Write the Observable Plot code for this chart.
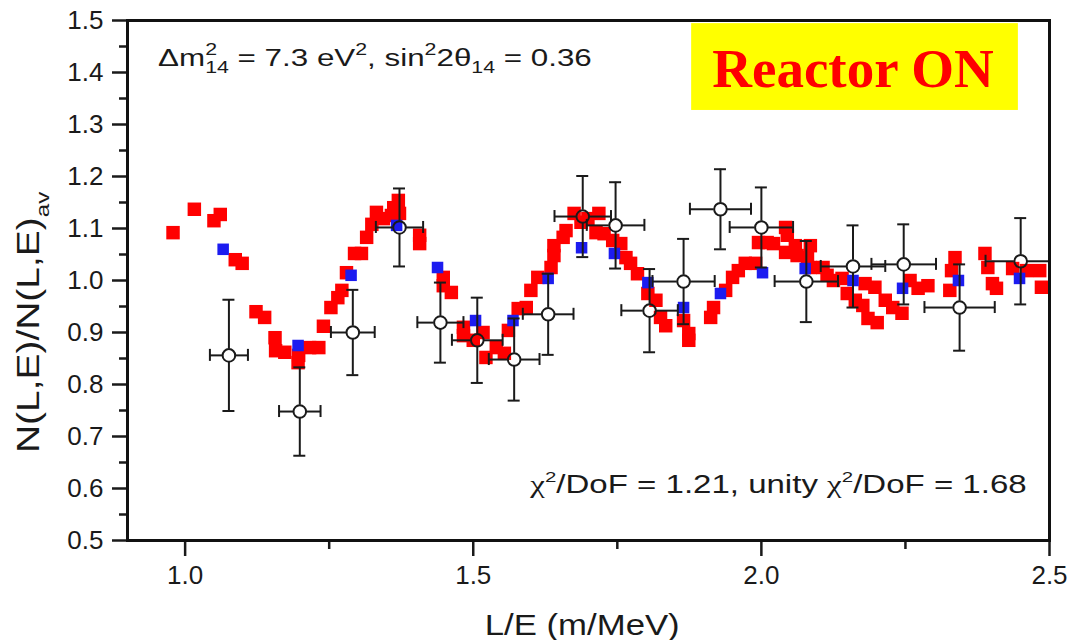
<!DOCTYPE html>
<html>
<head>
<meta charset="utf-8">
<script src="https://cdn.jsdelivr.net/npm/d3@7"></script>
<script src="https://cdn.jsdelivr.net/npm/@observablehq/plot@0.6"></script>
<style>
  html, body { margin: 0; padding: 0; background: #fff; }
  #chart { width: 1070px; height: 640px; overflow: hidden; }
</style>
</head>
<body>
<div id="chart"></div>
<script>
// Measured ratio N(L,E)/N(L,E)_av in L/E bins (open circles with error bars)
const binLE        = [1.076, 1.199, 1.291, 1.372, 1.443, 1.507, 1.571, 1.630, 1.690, 1.747, 1.806, 1.865, 1.929, 2.000, 2.078, 2.159, 2.247, 2.344, 2.450];
const binHalfWidth = [0.033, 0.036, 0.038, 0.041, 0.040, 0.044, 0.044, 0.044, 0.049, 0.050, 0.049, 0.054, 0.053, 0.055, 0.055, 0.056, 0.056, 0.061, 0.061];
const measRatio    = [0.856, 0.748, 0.900, 1.102, 0.919, 0.885, 0.848, 0.935, 1.123, 1.106, 0.942, 0.998, 1.137, 1.102, 0.998, 1.027, 1.031, 0.948, 1.037];
const measError    = [0.107, 0.085, 0.082, 0.075, 0.077, 0.082, 0.079, 0.078, 0.078, 0.083, 0.080, 0.082, 0.077, 0.077, 0.078, 0.079, 0.077, 0.083, 0.083];

// Oscillation model averaged over each bin (blue squares)
const fitLE    = [1.066, 1.196, 1.288, 1.367, 1.438, 1.504, 1.569, 1.630, 1.688, 1.745, 1.803, 1.865, 1.929, 2.002, 2.076, 2.159, 2.245, 2.342, 2.448];
const fitRatio = [1.060, 0.875, 1.010, 1.106, 1.025, 0.923, 0.923, 1.004, 1.063, 1.052, 0.996, 0.948, 0.975, 1.015, 1.023, 1.000, 0.985, 1.000, 1.004];

// Model evaluated point by point (red squares)
const simLE = [
  0.979, 1.016, 1.050, 1.061, 1.087, 1.099, 1.123, 1.138, 1.156, 1.157,
  1.173, 1.196, 1.197, 1.216, 1.232, 1.240, 1.253, 1.265, 1.272, 1.280,
  1.294, 1.306, 1.315, 1.324, 1.332, 1.344, 1.358, 1.362, 1.370, 1.372,
  1.407, 1.407, 1.448, 1.448, 1.462, 1.483, 1.483, 1.500, 1.517, 1.522,
  1.540, 1.554, 1.561, 1.578, 1.592, 1.600, 1.612, 1.635, 1.640, 1.640,
  1.656, 1.661, 1.675, 1.687, 1.699, 1.718, 1.713, 1.727, 1.742, 1.756,
  1.765, 1.773, 1.785, 1.803, 1.817, 1.825, 1.834, 1.865, 1.874, 1.874,
  1.912, 1.917, 1.938, 1.950, 1.960, 1.972, 1.990, 1.995, 2.010, 2.021,
  2.042, 2.045, 2.042, 2.059, 2.062, 2.085, 2.080, 2.085, 2.107, 2.114,
  2.125, 2.140, 2.149, 2.163, 2.176, 2.185, 2.180, 2.197, 2.201, 2.215,
  2.228, 2.244, 2.258, 2.272, 2.289, 2.336, 2.330, 2.327, 2.388, 2.393,
  2.401, 2.408, 2.436, 2.460, 2.483, 2.486
];
const simRatio = [
  1.092, 1.137, 1.115, 1.127, 1.040, 1.033, 0.940, 0.929, 0.890, 0.865,
  0.862, 0.842, 0.856, 0.871, 0.871, 0.912, 0.948, 0.967, 0.981, 1.015,
  1.052, 1.052, 1.083, 1.108, 1.131, 1.119, 1.125, 1.140, 1.154, 1.129,
  1.087, 1.071, 1.006, 0.990, 0.977, 0.910, 0.894, 0.885, 0.900, 0.852,
  0.871, 0.860, 0.904, 0.946, 0.948, 0.981, 1.006, 1.025, 1.048, 1.067,
  1.083, 1.096, 1.129, 1.112, 1.119, 1.129, 1.092, 1.090, 1.077, 1.071,
  1.044, 1.033, 1.013, 0.975, 0.962, 0.929, 0.913, 0.923, 0.898, 0.885,
  0.929, 0.948, 0.981, 1.006, 1.019, 1.033, 1.033, 1.073, 1.073, 1.071,
  1.102, 1.087, 1.054, 1.067, 1.048, 1.067, 1.044, 1.025, 1.025, 1.010,
  1.000, 1.004, 0.975, 0.962, 0.952, 0.927, 0.994, 0.987, 0.919, 0.962,
  0.948, 0.937, 1.000, 0.985, 0.990, 1.044, 1.019, 0.981, 1.052, 1.025,
  0.994, 0.985, 1.023, 1.019, 1.019, 0.987
];

// Axis ticks
const yMajor = [0.5, 0.6, 0.7, 0.8, 0.9, 1.0, 1.1, 1.2, 1.3, 1.4, 1.5];
const yMinor = [0.55, 0.65, 0.75, 0.85, 0.95, 1.05, 1.15, 1.25, 1.35, 1.45];
const xMajor = [1.0, 1.5, 2.0, 2.5];
const xMinor = [1.25, 1.75, 2.25];

const SANS = "'Liberation Sans', Arial, Helvetica, sans-serif";
const SERIF = "'Liberation Serif', 'Times New Roman', serif";
const INK = "#1a1a1a";

const observed = binLE.map((x, i) => ({
  x, y: measRatio[i],
  lo: measRatio[i] - measError[i], hi: measRatio[i] + measError[i],
  xlo: x - binHalfWidth[i], xhi: x + binHalfWidth[i]
}));
const fit = fitLE.map((x, i) => ({x, y: fitRatio[i]}));
const sim = simLE.map((x, i) => ({x, y: simRatio[i]}));

const R = 6.3;   // open-circle radius
const CAP = 6;   // half length of the error-bar caps
const err = {stroke: INK, strokeWidth: 2, clip: true};

const chart = Plot.plot({
  width: 1070,
  height: 640,
  marginLeft: 127,
  marginRight: 21,
  marginTop: 20,
  marginBottom: 100,
  x: {domain: [0.9, 2.5]},
  y: {domain: [0.5, 1.5]},
  style: {fontFamily: SANS, fontSize: "26px", color: INK, background: "#fff", overflow: "visible"},
  marks: [
    Plot.axisY({ticks: yMajor, tickSize: 15, tickPadding: 9, tickFormat: d3.format(".1f"), strokeWidth: 2.5, label: null}),
    Plot.axisY({ticks: yMinor, tickSize: 8, tickFormat: () => "", strokeWidth: 2.5, label: null}),
    Plot.axisX({ticks: xMajor, tickSize: 16, tickPadding: 9, tickFormat: d3.format(".1f"), strokeWidth: 2.5, label: null}),
    Plot.axisX({ticks: xMinor, tickSize: 9, tickFormat: () => "", strokeWidth: 2.5, label: null}),

    // white discs under the squares, so circles covered by the model turn red
    Plot.dot(observed, {x: "x", y: "y", r: R, fill: "white"}),
    Plot.dot(sim, {x: "x", y: "y", symbol: "square", r: 7.6, fill: "#ff0000"}),
    Plot.dot(fit, {x: "x", y: "y", symbol: "square", r: 6.5, fill: "#1c1cf0"}),

    // error bars, stopping at the circle edge
    Plot.ruleX(observed, {x: "x", y1: "hi", y2: "y", insetBottom: R, ...err}),
    Plot.ruleX(observed, {x: "x", y1: "y", y2: "lo", insetTop: R, ...err}),
    Plot.ruleY(observed, {y: "y", x1: "xlo", x2: "x", insetRight: R, ...err}),
    Plot.ruleY(observed, {y: "y", x1: "x", x2: "xhi", insetLeft: R, ...err}),
    Plot.ruleY(observed, {y: "hi", x1: "x", x2: "x", insetLeft: -CAP, insetRight: -CAP, ...err}),
    Plot.ruleY(observed, {y: "lo", x1: "x", x2: "x", insetLeft: -CAP, insetRight: -CAP, ...err}),
    Plot.ruleX(observed, {x: "xlo", y1: "y", y2: "y", insetTop: -CAP, insetBottom: -CAP, ...err}),
    Plot.ruleX(observed, {x: "xhi", y1: "y", y2: "y", insetTop: -CAP, insetBottom: -CAP, ...err}),
    Plot.dot(observed, {x: "x", y: "y", r: R, fill: "none", stroke: INK, strokeWidth: 2}),

    Plot.frame({stroke: "#111", strokeWidth: 3})
  ]
});

document.getElementById("chart").append(chart);

// ---- annotations with super/subscripts ----
const sx = chart.scale("x");
const sy = chart.scale("y");
const svg = d3.select(chart);

function richText(g, parts, {size, family = SANS, fill = INK, script = 0.62}) {
  const t = g.append("text")
    .attr("text-anchor", "start")
    .attr("font-family", family)
    .attr("font-size", size)
    .attr("fill", fill);
  let shift = 0, prev = null;
  for (const p of parts) {
    const span = t.append("tspan").text(p.t);
    const level = p.sup ? -0.45 * size : p.sub ? 0.32 * size : 0;
    if (level !== shift) { span.attr("dy", level - shift); shift = level; }
    if (p.sup || p.sub) span.attr("font-size", size * script);
    if (p.f) span.attr("font-family", p.f);
    if (p.stack && prev) span.attr("dx", -prev.node().getComputedTextLength());
    prev = span;
  }
  return t;
}

// places text so that it spans `span` pixels along its baseline (glyphs widened as needed)
function placeStretched(parts, {x, y, size, span, anchor = "start", family, script, rotate = false}) {
  const g = svg.append("g");
  const t = richText(g, parts, {size, family, script});
  const w = t.node().getBBox().width || span;
  const k = span / w;
  if (rotate) {
    g.attr("transform", `translate(${x},${y + span / 2}) rotate(-90) scale(${k},1)`);
  } else {
    const x0 = anchor === "end" ? x - span : anchor === "middle" ? x - span / 2 : x;
    g.attr("transform", `translate(${x0},${y}) scale(${k},1)`);
  }
  return g;
}

// oscillation parameters
placeStretched([
  {t: "\u0394m"}, {t: "2", sup: true}, {t: "14", sub: true, stack: true},
  {t: " = 7.3 eV"}, {t: "2", sup: true},
  {t: ", sin"}, {t: "2", sup: true}, {t: "2\u03b8"}, {t: "14", sub: true},
  {t: " = 0.36"}
], {x: sx.apply(0.954), y: sy.apply(1.412), size: 24, script: 0.68, span: 434});

// goodness of fit
placeStretched([
  {t: "\u03c7", f: SERIF}, {t: "2", sup: true}, {t: "/DoF = 1.21, unity "},
  {t: "\u03c7", f: SERIF}, {t: "2", sup: true}, {t: "/DoF = 1.68"}
], {x: sx.apply(2.464), y: sy.apply(0.59), size: 25, span: 498, anchor: "end"});

// axis titles
placeStretched([{t: "L/E (m/MeV)"}], {x: sx.apply(1.69), y: 635, size: 30, span: 195, anchor: "middle"});
placeStretched([{t: "N(L,E)/N(L,E)"}, {t: "av", sub: true}], {x: 39, y: sy.apply(0.919), size: 31, span: 262, rotate: true});

// "Reactor ON" label
const badge = svg.append("g");
badge.append("rect")
  .attr("x", sx.apply(1.879)).attr("y", sy.apply(1.494))
  .attr("width", sx.apply(2.446) - sx.apply(1.879))
  .attr("height", sy.apply(1.327) - sy.apply(1.494))
  .attr("fill", "#ffff00");
badge.append("text")
  .attr("x", sx.apply(2.160)).attr("y", sy.apply(1.371))
  .attr("text-anchor", "middle")
  .attr("font-family", SERIF).attr("font-weight", "bold").attr("font-size", 55)
  .attr("fill", "#ff0000")
  .text("Reactor ON");
</script>
</body>
</html>
